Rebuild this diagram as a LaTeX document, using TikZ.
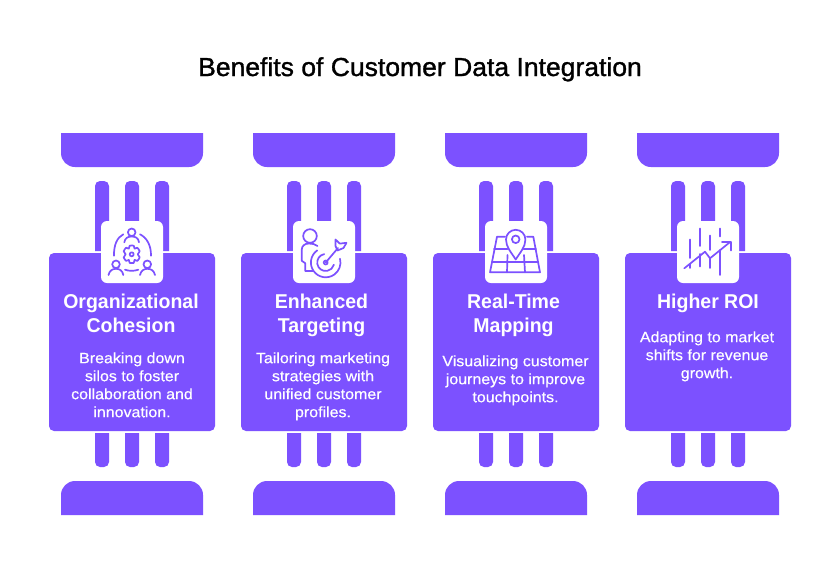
\documentclass[tikz,border=0pt]{standalone}
\usepackage{fontspec}
\setmainfont{Liberation Sans}
\newfontfamily\titlefont[FakeStretch=1.02,FakeBold=1.2]{Liberation Sans}
\newfontfamily\headfont[FakeStretch=0.975]{Liberation Sans Bold}
\newfontfamily\bodyfont[FakeStretch=1.065,FakeBold=0.4]{Liberation Sans}
\definecolor{vio}{HTML}{7C51FF}
\tikzset{
  x=1pt,y=-1pt,
  block/.style={fill=vio,draw=none},
  tile/.style={fill=white,draw=none},
  icon/.style={draw=vio,line width=1.7pt,line cap=round,line join=round,fill=none},
  headtext/.style={anchor=north,inner sep=0pt,align=center,text=white,font=\headfont\fontsize{20}{24}\selectfont},
  bodytext/.style={anchor=north,inner sep=0pt,align=center,text=white,font=\bodyfont\fontsize{15}{18}\selectfont},
}
\newcommand\iarc[5]{([shift={(#4:#3pt)}]#1,#2) arc[start angle=#4,end angle=#5,radius=#3pt]}
\newcommand\pillarcol[6]{%
\begin{scope}[xshift=#1pt]
  % top cap
  \fill[block] (61,133) -- (203,133) -- (203,153) arc[start angle=0,end angle=-90,radius=14pt] -- (75,167) arc[start angle=270,end angle=180,radius=14pt] -- cycle;
  % bottom cap
  \fill[block] (61,515) -- (203,515) -- (203,495) arc[start angle=0,end angle=90,radius=14pt] -- (75,481) arc[start angle=90,end angle=180,radius=14pt] -- cycle;
  % pillars
  \foreach \px in {95,125,155}{
    \fill[block] (\px,251) -- (\px,186) arc[start angle=180,end angle=90,radius=5pt] -- ({\px+9},181) arc[start angle=90,end angle=0,radius=5pt] -- ({\px+14},251) -- cycle;
    \fill[block] (\px,433) -- (\px,462) arc[start angle=180,end angle=270,radius=5pt] -- ({\px+9},467) arc[start angle=270,end angle=360,radius=5pt] -- ({\px+14},433) -- cycle;
  }
  % panel
  \fill[block,rounded corners=5pt] (49,253) rectangle (215,431);
  % icon tile
  \fill[tile,rounded corners=6pt] (101,221) rectangle (163,283);
  \node[headtext] (head#2) at (#3) {#4};
  \node[bodytext] (body#2) at (#5) {#6};
\end{scope}}
\begin{document}
\begin{tikzpicture}
\fill[white] (0,0) rectangle (840,576);
\useasboundingbox (0,0) rectangle (840,576);
\node[anchor=base,inner sep=0pt,font=\titlefont\fontsize{26}{30}\selectfont] (title) at (420,76) {Benefits of Customer Data Integration};

\pillarcol{0}{A}{131,291.2}{\strut Organizational\\Cohesion}{132,350.4}{\strut Breaking down\\silos to foster\\collaboration and\\innovation.}
\pillarcol{192}{B}{129.5,291.2}{\strut Enhanced\\Targeting}{131,350.4}{\strut Tailoring marketing\\strategies with\\unified customer\\profiles.}
\pillarcol{384}{C}{129.5,291.2}{\strut Real-Time\\Mapping}{131.5,353.4}{\strut Visualizing customer\\journeys to improve\\touchpoints.}
\pillarcol{576}{D}{132,291.2}{\strut Higher ROI}{131,329.4}{\strut Adapting to market\\shifts for revenue\\growth.}

% icon 1: people around a gear
\draw[icon] (131.7,232.3) circle[radius=3.8pt];
\draw[icon] (124.3,242.3) .. controls (125,238) and (128,236.5) .. (131.7,236.5) .. controls (135.5,236.5) and (138.5,238) .. (139,242.3);
\draw[icon] (116,264.3) circle[radius=3.8pt];
\draw[icon] (108.5,275) .. controls (109.5,270.5) and (112.5,268.8) .. (116,268.8) .. controls (119.5,268.8) and (122.5,270.5) .. (123.3,275);
\draw[icon] (147.3,264.3) circle[radius=3.8pt];
\draw[icon] (140,275) .. controls (141,270.5) and (144,268.8) .. (147.3,268.8) .. controls (151,268.8) and (154,270.5) .. (155,275);
\draw[icon] (123.3,234.3) .. controls (117,237.5) and (113.8,245) .. (114,255.7);
\draw[icon] (140,234.3) .. controls (146.5,237.5) and (151.2,245) .. (151,255.7);
\draw[icon] (125,269.7) .. controls (129,271.2) and (134,271.2) .. (138.3,269.7);
\draw[icon] (131.7,254.3) circle[radius=2pt];
\draw[icon] plot[smooth cycle,tension=0.35] coordinates {(129.7,245.7) (133.7,245.7) (134.6,248.7) (137.3,247.7) (139.7,251.2) (137.8,254.3) (139.7,257.4) (137.3,260.9) (134.6,259.9) (133.7,262.9) (129.7,262.9) (128.8,259.9) (126.1,260.9) (123.7,257.4) (125.6,254.3) (123.7,251.2) (126.1,247.7) (128.8,248.7)};

% icon 2: person with target
\draw[icon] (310,236) circle[radius=6.8pt];
\draw[icon] (317.5,246) .. controls (315,244) and (312,243.5) .. (309,243.5) .. controls (304.5,243.5) and (301.7,246) .. (301.7,250) -- (301.7,260.7) -- (305.3,263.3) -- (305.3,271) -- (313.3,271);
\draw[icon] \iarc{325.7}{262.5}{14.8}{125}{375};
\draw[icon] \iarc{325.7}{262.5}{8.5}{100}{345};
\draw[icon] (325.7,262.5) circle[radius=2pt];
\draw[icon] (325.7,262.5) -- (338,248);
\draw[icon] (335.5,239.5) -- (339.8,243.6) -- (346.5,242.8) -- (343.5,248) -- (337.5,250.5) -- (335.5,246) -- cycle;

% icon 3: pin on a map
\draw[icon] (515.7,259.5) .. controls (511,252) and (506,247) .. (506,239.5) arc[start angle=180,end angle=0,radius=9.7pt] .. controls (525.4,247) and (520.4,252) .. (515.7,259.5) -- cycle;
\draw[icon] (515.7,239.3) circle[radius=3.8pt];
\draw[icon] (505,236.7) -- (497,236.7) -- (490,272.3) -- (540,272.3) -- (533.3,236.7) -- (527,236.7);
\draw[icon] (494,249.3) -- (507.5,249.3);
\draw[icon] (523.5,249.3) -- (536,249.3);
\draw[icon] (492,262.3) -- (538.3,262.3);
\draw[icon] (507.5,255) -- (507,272.3);
\draw[icon] (524,255) -- (525,272.3);

% icon 4: rising chart
\draw[icon] (690,239.5) -- (690,258);
\draw[icon] (690,264) -- (690,268);
\draw[icon] (700,228.5) -- (700,246);
\draw[icon] (700,254) -- (700,266.5);
\draw[icon] (710,235.5) -- (710,250);
\draw[icon] (710,258.5) -- (710,268);
\draw[icon] (720,228.5) -- (720,236.5);
\draw[icon] (720,250) -- (720,275);
\draw[icon] (684.3,268.3) -- (705,251.7) -- (710,258.3) -- (730.5,241.7);
\draw[icon] (722,241.7) -- (731,241.7) -- (731,250.5);
\end{tikzpicture}
\end{document}
